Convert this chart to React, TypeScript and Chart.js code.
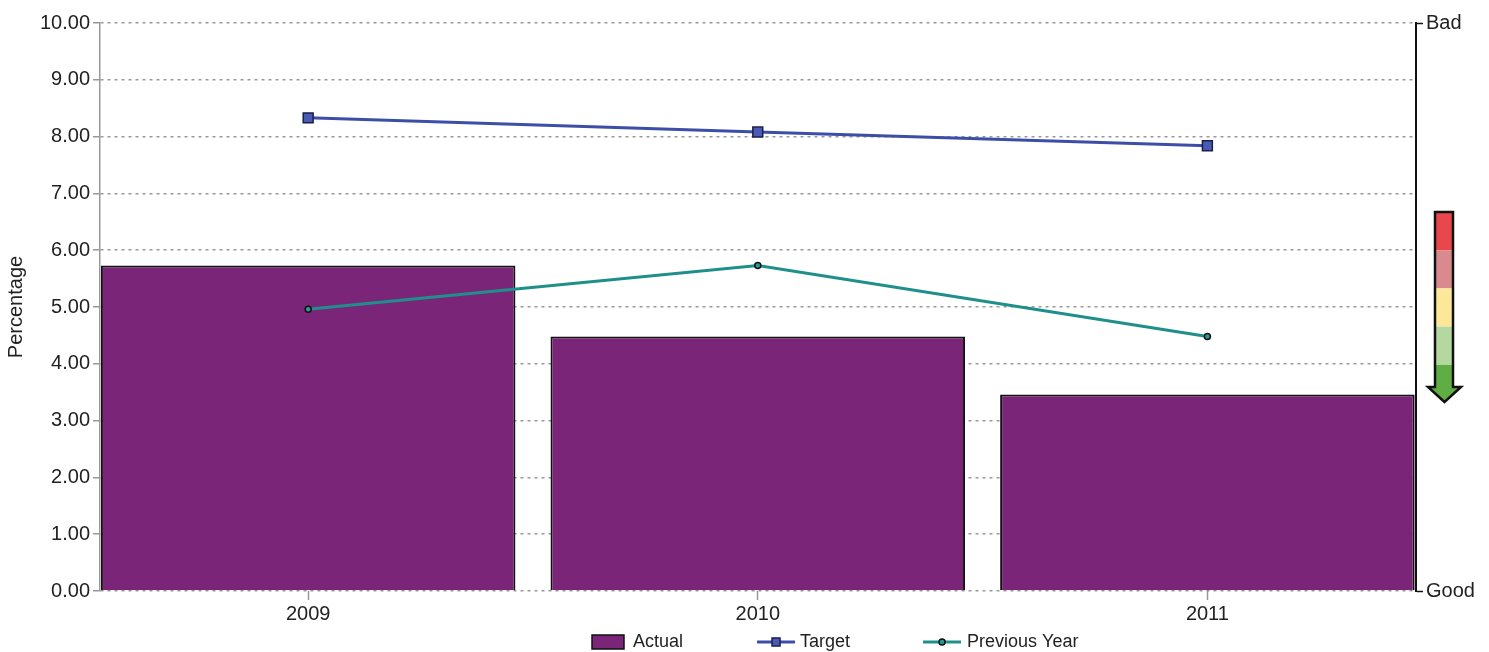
import React, { useEffect, useRef } from 'react';
import { Chart, registerables } from 'chart.js';

Chart.register(...registerables);

// ---- data ----
const years = [2009, 2010, 2011];
const actual = [5.73, 4.48, 3.46];
const target = [8.33, 8.08, 7.84];
const previousYear = [4.96, 5.73, 4.48];
const ratingLabels = ['Good', 'Bad'];
const legendLabels = ['Actual', 'Target', 'Previous Year'];
const axisTitle = 'Percentage';

const FONT = "'Liberation Sans', Arial, Helvetica, sans-serif";
const PURPLE = '#7b2579';
const BLUE = '#3d4ea8';
const TEAL = '#1f8f8c';

const arrowPlugin = {
  id: 'ratingArrow',
  afterDraw(chart: any) {
    const { ctx, chartArea } = chart;
    const r = chartArea.right;
    const t = chartArea.top;
    const sl = r + 19, sr = r + 37, hl = r + 12, hr = r + 45, tipX = r + 28.5;
    const top = t + 189, neck = t + 364, tip = t + 379;
    ctx.save();
    ctx.beginPath();
    ctx.moveTo(sl, top);
    ctx.lineTo(sr, top);
    ctx.lineTo(sr, neck);
    ctx.lineTo(hr, neck);
    ctx.lineTo(tipX, tip);
    ctx.lineTo(hl, neck);
    ctx.lineTo(sl, neck);
    ctx.closePath();
    ctx.save();
    ctx.clip();
    const bands = ['#e8474b', '#d98a8e', '#fde89a', '#b5d7a0', '#5fae44'];
    const bh = 38.2;
    bands.forEach((c, i) => {
      ctx.fillStyle = c;
      const y0 = top + i * bh;
      const y1 = i === bands.length - 1 ? tip + 2 : top + (i + 1) * bh;
      ctx.fillRect(hl - 2, y0, hr - hl + 4, y1 - y0);
    });
    ctx.restore();
    ctx.lineWidth = 2.5;
    ctx.strokeStyle = '#111';
    ctx.lineJoin = 'miter';
    ctx.stroke();
    ctx.restore();
  },
};

const legendPlugin = {
  id: 'customLegend',
  afterDraw(chart: any) {
    const { ctx, chartArea } = chart;
    const cy = chartArea.bottom + 51;
    ctx.save();
    ctx.font = `18px ${FONT}`;
    ctx.textBaseline = 'middle';
    ctx.fillStyle = '#222';
    let x = 592;
    // Actual
    ctx.fillStyle = PURPLE;
    ctx.fillRect(x, cy - 7, 32, 14);
    ctx.strokeStyle = '#111';
    ctx.lineWidth = 1.5;
    ctx.strokeRect(x, cy - 7, 32, 14);
    x += 41;
    ctx.fillStyle = '#222';
    ctx.fillText(legendLabels[0], x, cy);
    x += ctx.measureText(legendLabels[0]).width + 74;
    // Target
    ctx.strokeStyle = BLUE;
    ctx.lineWidth = 3;
    ctx.beginPath();
    ctx.moveTo(x, cy);
    ctx.lineTo(x + 38, cy);
    ctx.stroke();
    ctx.fillStyle = '#4a5bb5';
    ctx.fillRect(x + 15, cy - 4, 8, 8);
    ctx.strokeStyle = '#1a1f4a';
    ctx.lineWidth = 1.5;
    ctx.strokeRect(x + 15, cy - 4, 8, 8);
    x += 43;
    ctx.fillStyle = '#222';
    ctx.fillText(legendLabels[1], x, cy);
    x += ctx.measureText(legendLabels[1]).width + 73;
    // Previous Year
    ctx.strokeStyle = TEAL;
    ctx.lineWidth = 3;
    ctx.beginPath();
    ctx.moveTo(x, cy);
    ctx.lineTo(x + 38, cy);
    ctx.stroke();
    ctx.fillStyle = '#2a9a97';
    ctx.beginPath();
    ctx.arc(x + 19, cy, 3, 0, Math.PI * 2);
    ctx.fill();
    ctx.strokeStyle = '#111';
    ctx.lineWidth = 1.5;
    ctx.stroke();
    x += 44;
    ctx.fillStyle = '#222';
    ctx.fillText(legendLabels[2], x, cy);
    ctx.restore();
  },
};

export default function App() {
  const ref = useRef<HTMLCanvasElement>(null);

  useEffect(() => {
    const canvas = ref.current;
    if (!canvas) return;
    const tickFont = { family: FONT, size: 20 };
    const chart = new Chart(canvas, {
      type: 'bar',
      data: {
        datasets: [
          {
            type: 'line',
            label: legendLabels[1],
            data: years.map((y, i) => ({ x: y, y: target[i] })),
            borderColor: BLUE,
            borderWidth: 3,
            pointStyle: 'rect',
            pointRadius: 7,
            pointBackgroundColor: '#4a5bb5',
            pointBorderColor: '#1a1f4a',
            pointBorderWidth: 1.5,
            order: 1,
          },
          {
            type: 'line',
            label: legendLabels[2],
            data: years.map((y, i) => ({ x: y, y: previousYear[i] })),
            borderColor: TEAL,
            borderWidth: 3,
            pointStyle: 'circle',
            pointRadius: 3,
            pointBackgroundColor: '#2a9a97',
            pointBorderColor: '#111',
            pointBorderWidth: 1.5,
            order: 2,
          },
          {
            type: 'bar',
            label: legendLabels[0],
            data: years.map((y, i) => ({ x: y, y: actual[i] })),
            backgroundColor: PURPLE,
            borderColor: '#111',
            borderWidth: 2,
            barPercentage: 0.922,
            categoryPercentage: 1,
            order: 3,
          },
        ] as any,
      },
      options: {
        responsive: false,
        animation: false,
        devicePixelRatio: 1,
        layout: { padding: { top: 23, left: 0, right: 0, bottom: 0 } },
        plugins: {
          legend: { display: false },
          tooltip: { enabled: false },
        },
        scales: {
          x: {
            type: 'linear',
            offset: false,
            min: 2008.537,
            max: 2011.464,
            afterBuildTicks: (s: any) => {
              s.ticks = years.map((v) => ({ value: v }));
            },
            afterFit: (s: any) => {
              s.height = 61;
            },
            ticks: {
              autoSkip: false,
              maxRotation: 0,
              padding: 2,
              color: '#222',
              font: tickFont,
              callback: (v: any) => String(v),
            },
            grid: {
              offset: false,
              drawOnChartArea: false,
              drawTicks: true,
              tickLength: 9,
              color: '#999',
              tickColor: '#999',
              tickWidth: 1.5,
            },
            border: { display: false },
          },
          y: {
            position: 'left',
            min: 0,
            max: 10,
            afterFit: (s: any) => {
              s.width = 100;
            },
            title: {
              display: true,
              text: axisTitle,
              color: '#222',
              font: { family: FONT, size: 20 },
              padding: { top: 4, bottom: 0 },
            },
            ticks: {
              stepSize: 1,
              padding: 3,
              color: '#222',
              font: tickFont,
              callback: (v: any) => Number(v).toFixed(2),
            },
            grid: {
              color: '#999999',
              lineWidth: 1.5,
              tickLength: 7,
              tickColor: '#999',
              tickWidth: 1.5,
              tickBorderDash: [],
            },
            border: { display: true, color: '#999', width: 1.5, dash: [3, 4] },
          },
          y2: {
            position: 'right',
            min: 0,
            max: 10,
            afterBuildTicks: (s: any) => {
              s.ticks = [{ value: 0 }, { value: 10 }];
            },
            afterFit: (s: any) => {
              s.width = 73;
            },
            ticks: {
              padding: 3,
              color: '#222',
              font: tickFont,
              callback: (v: any) => (v === 10 ? ratingLabels[1] : v === 0 ? ratingLabels[0] : ''),
            },
            grid: {
              drawOnChartArea: false,
              drawTicks: true,
              tickLength: 7,
              tickColor: '#111',
              tickWidth: 1.5,
            },
            border: { display: true, color: '#111', width: 2 },
          },
        },
      } as any,
      plugins: [arrowPlugin, legendPlugin],
    });
    return () => chart.destroy();
  }, []);

  return (
    <div style={{ position: 'fixed', left: 0, top: 0, width: 1489, height: 652, background: '#fff' }}>
      <canvas ref={ref} width={1489} height={652} style={{ display: 'block', width: 1489, height: 652 }} />
    </div>
  );
}
